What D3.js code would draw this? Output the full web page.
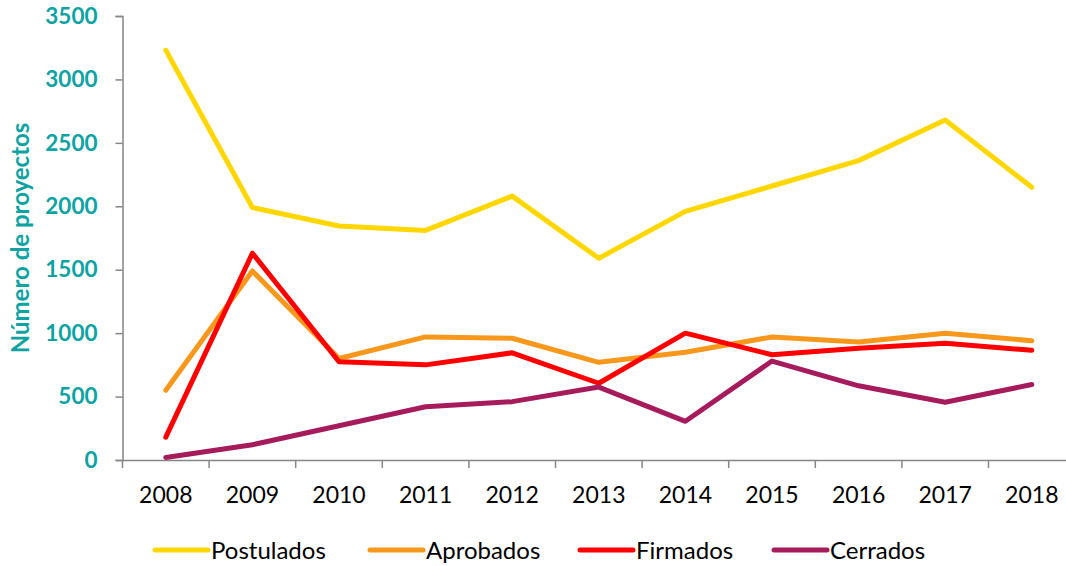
<!DOCTYPE html>
<html>
<head>
<meta charset="utf-8">
<script src="https://cdn.jsdelivr.net/npm/d3@7"></script>
<style>
  body { margin: 0; background: #fff; }
  #chart { width: 1066px; height: 566px; overflow: hidden; }
</style>
</head>
<body>
<div id="chart"></div>
<script>
var years = ["2008", "2009", "2010", "2011", "2012", "2013", "2014", "2015", "2016", "2017", "2018"];
var postulados = [3230, 1990, 1845, 1810, 2080, 1590, 1960, 2160, 2360, 2680, 2150];
var aprobados = [550, 1490, 800, 970, 960, 770, 850, 970, 930, 1000, 940];
var firmados = [180, 1630, 775, 750, 845, 605, 1000, 830, 880, 920, 865];
var cerrados = [20, 120, 270, 420, 460, 575, 305, 780, 585, 455, 595];
var seriesNames = ["Postulados", "Aprobados", "Firmados", "Cerrados"];
var yTicks = [0, 500, 1000, 1500, 2000, 2500, 3000, 3500];

(function () {
    var width = 1066,
        height = 566;

    var colors = ["#ffd700", "#f7981d", "#ff0000", "#a51b5b"];
    var series = [postulados, aprobados, firmados, cerrados];
    var font = "Lato, 'Open Sans', sans-serif";

    var svg = d3.select("#chart")
        .append("svg")
        .attr("width", width)
        .attr("height", height);

    var x = d3.scaleBand()
        .domain(years)
        .range([122.5, 122.5 + 86.6 * years.length]);

    var y = d3.scaleLinear()
        .domain([0, 3500])
        .range([460, 16]);

    // y axis
    var yAxis = svg.append("g")
        .attr("transform", "translate(122.5,0)")
        .call(d3.axisLeft(y).tickValues(yTicks).tickFormat(d3.format("d")).tickSize(7).tickPadding(18));
    yAxis.select(".domain").attr("stroke", "#868686").attr("stroke-width", 1.5);
    yAxis.selectAll(".tick line").attr("stroke", "#868686").attr("stroke-width", 1.5);
    yAxis.selectAll(".tick text")
        .attr("fill", "#0ea3a3")
        .style("font-family", font)
        .style("font-weight", "bold")
        .style("font-size", "22.5px");

    // x axis
    var xAxis = svg.append("g")
        .attr("transform", "translate(0,460)")
        .call(d3.axisBottom(x).tickSize(0).tickPadding(27));
    xAxis.select(".domain").attr("stroke", "#868686").attr("stroke-width", 1.5);
    xAxis.selectAll(".tick text")
        .attr("fill", "#000")
        .style("font-family", font)
        .style("font-size", "23px");
    xAxis.selectAll(".sep")
        .data(years.concat(["end"]))
        .enter().append("line")
        .attr("class", "sep")
        .attr("x1", function (d, i) { return x.range()[0] + i * x.step(); })
        .attr("x2", function (d, i) { return x.range()[0] + i * x.step(); })
        .attr("y1", 0)
        .attr("y2", 8)
        .attr("stroke", "#868686")
        .attr("stroke-width", 1.5);

    // y title
    svg.append("text")
        .attr("transform", "translate(29,238) rotate(-90)")
        .attr("text-anchor", "middle")
        .attr("fill", "#0ea3a3")
        .style("font-family", font)
        .style("font-weight", "bold")
        .style("font-size", "24px")
        .text("Número de proyectos");

    var line = d3.line()
        .x(function (d, i) { return x(years[i]) + x.bandwidth() / 2; })
        .y(function (d) { return y(d); });

    svg.selectAll(".serie")
        .data(series)
        .enter().append("path")
        .attr("class", "serie")
        .attr("d", line)
        .attr("fill", "none")
        .attr("stroke", function (d, i) { return colors[i]; })
        .attr("stroke-width", 5)
        .attr("stroke-linejoin", "round")
        .attr("stroke-linecap", "round");

    // legend
    var legendX = [153, 368, 578, 772];
    var legend = svg.selectAll(".legend")
        .data(seriesNames)
        .enter().append("g")
        .attr("class", "legend")
        .attr("transform", function (d, i) { return "translate(" + legendX[i] + ",550)"; });
    legend.append("line")
        .attr("x1", 2).attr("x2", 55)
        .attr("y1", 0).attr("y2", 0)
        .attr("stroke", function (d, i) { return colors[i]; })
        .attr("stroke-width", 5)
        .attr("stroke-linecap", "round");
    legend.append("text")
        .attr("x", 58)
        .attr("y", 8.5)
        .attr("fill", "#000")
        .style("font-family", font)
        .style("font-size", "24px")
        .text(function (d) { return d; });
})();
</script>
</body>
</html>
